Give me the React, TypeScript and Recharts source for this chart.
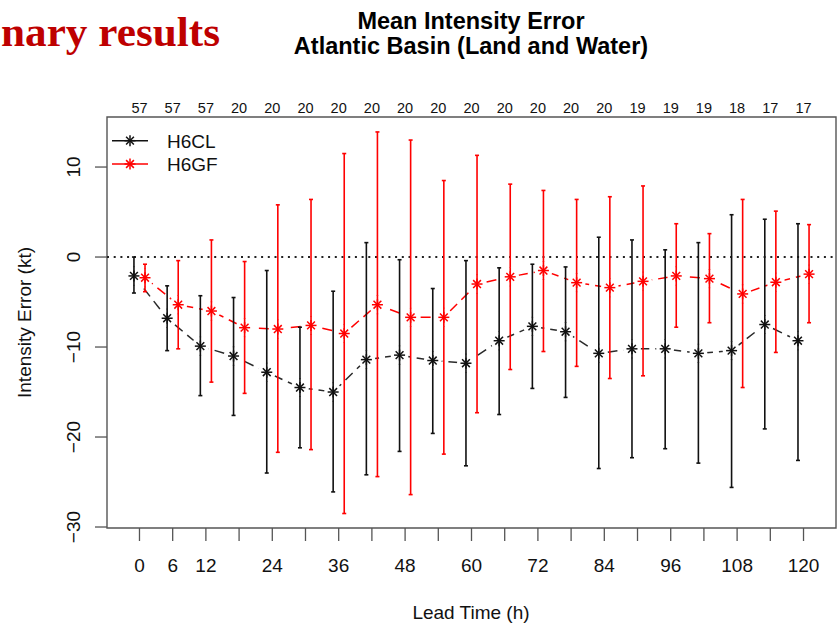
import React from 'react';
import { ComposedChart, Line, XAxis, YAxis, ErrorBar, ReferenceLine, ReferenceArea } from 'recharts';

// ---- data ----
const leadTimes = [0, 6, 12, 18, 24, 30, 36, 42, 48, 54, 60, 66, 72, 78, 84, 90, 96, 102, 108, 114, 120];
const caseCounts = [57, 57, 57, 20, 20, 20, 20, 20, 20, 20, 20, 20, 20, 20, 20, 19, 19, 19, 18, 17, 17];

const h6clMean = [-2.1, -6.8, -9.9, -11.0, -12.8, -14.5, -15.0, -11.4, -10.9, -11.5, -11.8, -9.3, -7.7, -8.3, -10.7, -10.2, -10.2, -10.7, -10.4, -7.5, -9.3];
const h6clLow = [-4.0, -10.4, -15.4, -17.6, -24.0, -21.2, -26.1, -24.2, -21.6, -19.6, -23.2, -17.5, -14.6, -15.6, -23.5, -22.3, -21.3, -22.9, -25.6, -19.1, -22.6];
const h6clHigh = [0.0, -3.2, -4.3, -4.5, -1.5, -7.8, -3.8, 1.6, -0.3, -3.5, -0.4, -1.2, -0.8, -1.1, 2.2, 1.9, 0.8, 1.6, 4.7, 4.2, 3.7];

const h6gfMean = [-2.3, -5.3, -6.0, -7.85, -8.0, -7.6, -8.5, -5.3, -6.7, -6.7, -3.0, -2.2, -1.5, -2.85, -3.4, -2.7, -2.1, -2.4, -4.1, -2.8, -1.9];
const h6gfLow = [-3.85, -10.2, -13.9, -15.15, -21.7, -21.4, -28.5, -24.4, -26.4, -21.9, -17.3, -12.5, -10.5, -12.15, -13.5, -13.2, -7.8, -7.3, -14.5, -10.6, -7.3];
const h6gfHigh = [-0.8, -0.4, 1.9, -0.5, 5.8, 6.4, 11.5, 13.9, 13.0, 8.5, 11.3, 8.1, 7.4, 6.4, 6.7, 7.9, 3.7, 2.6, 6.4, 5.1, 3.6];

const xTickLabels = [0, 6, 12, 24, 36, 48, 60, 72, 84, 96, 108, 120];
const yTicks = [-30, -20, -10, 0, 10];
const seriesShift = 1; // hours each series is nudged left / right
const xDomain: [number, number] = [-5.87, 125.87];
const yDomain: [number, number] = [-30.11, 15.56];

const BLACK = '#111111';
const LINE_BLACK = '#2a2a2a';
const RED = '#FF0000';
const FONT = '"Liberation Sans", Arial, Helvetica, sans-serif';
const GAP = 9;

const buildSeries = (mean: number[], low: number[], high: number[], shift: number) =>
  leadTimes.map((t, i) => ({
    x: t + shift,
    mean: mean[i],
    err: [mean[i] - low[i], high[i] - mean[i]],
  }));

const clData = buildSeries(h6clMean, h6clLow, h6clHigh, -seriesShift);
const gfData = buildSeries(h6gfMean, h6gfLow, h6gfHigh, seriesShift);

const Asterisk = ({ cx, cy, color }: { cx: number; cy: number; color: string }) => {
  const r = 5.5;
  const d = r * Math.SQRT1_2;
  return (
    <g stroke={color} strokeWidth={1.5}>
      <line x1={cx - r} y1={cy} x2={cx + r} y2={cy} />
      <line x1={cx} y1={cy - r} x2={cx} y2={cy + r} />
      <line x1={cx - d} y1={cy - d} x2={cx + d} y2={cy + d} />
      <line x1={cx - d} y1={cy + d} x2={cx + d} y2={cy - d} />
    </g>
  );
};

const starDot = (color: string) => (props: any) => {
  const { cx, cy, index } = props;
  if (cx == null || cy == null) return <g key={`s-${color}-${index}`} />;
  return (
    <g key={`s-${color}-${index}`}>
      <line x1={cx} y1={cy - GAP - 0.5} x2={cx} y2={cy + GAP + 0.5} stroke={color} strokeWidth={1.6} />
      <Asterisk cx={cx} cy={cy} color={color} />
    </g>
  );
};

const maskDot = (tag: string) => (props: any) => {
  const { cx, cy, index } = props;
  if (cx == null || cy == null) return <g key={`m-${tag}-${index}`} />;
  return <circle key={`m-${tag}-${index}`} cx={cx} cy={cy} r={GAP} fill="#ffffff" stroke="none" />;
};

const BottomTick = (props: any) => {
  const { x, y, payload } = props;
  if (!xTickLabels.includes(payload.value)) return <g />;
  return (
    <text x={x} y={y + 29} textAnchor="middle" fontFamily={FONT} fontSize={19} fill="#111">
      {payload.value}
    </text>
  );
};

const TopTick = (props: any) => {
  const { x, y, payload } = props;
  const idx = leadTimes.indexOf(payload.value);
  return (
    <text x={x} y={y} textAnchor="middle" fontFamily={FONT} fontSize={14.5} fill="#111">
      {idx >= 0 ? caseCounts[idx] : ''}
    </text>
  );
};

const LeftTick = (props: any) => {
  const { x, y, payload } = props;
  const bx = x - 13;
  return (
    <text
      x={bx}
      y={y}
      transform={`rotate(-90 ${bx} ${y})`}
      textAnchor="middle"
      fontFamily={FONT}
      fontSize={19}
      fill="#111"
    >
      {payload.value < 0 ? `\u2212${Math.abs(payload.value)}` : payload.value}
    </text>
  );
};

const legendItems = [
  { name: 'H6CL', color: BLACK, y: 140.7 },
  { name: 'H6GF', color: RED, y: 164 },
];

export default function App() {
  return (
    <div style={{ position: 'absolute', left: 0, top: 0, width: 837, height: 623, background: '#fff' }}>
      <ComposedChart width={837} height={623} margin={{ top: 87, right: 1, bottom: 0, left: 0 }}>
        <XAxis
          xAxisId="b"
          type="number"
          dataKey="x"
          domain={xDomain}
          ticks={leadTimes}
          interval={0}
          allowDataOverflow
          height={95}
          tickSize={13}
          tickMargin={2}
          axisLine={false}
          tickLine={{ stroke: '#555', strokeWidth: 1.3 }}
          tick={<BottomTick />}
        />
        <XAxis
          xAxisId="t"
          orientation="top"
          type="number"
          dataKey="x"
          domain={xDomain}
          ticks={leadTimes}
          interval={0}
          allowDataOverflow
          height={30}
          tickSize={0}
          tickMargin={4}
          axisLine={false}
          tickLine={false}
          tick={<TopTick />}
        />
        <YAxis
          type="number"
          domain={yDomain}
          ticks={yTicks}
          interval={0}
          allowDataOverflow
          width={107}
          tickSize={12}
          tickMargin={2}
          axisLine={false}
          tickLine={{ stroke: '#555', strokeWidth: 1.3 }}
          tick={<LeftTick />}
        />
        <ReferenceArea
          xAxisId="b"
          x1={xDomain[0]}
          x2={xDomain[1]}
          y1={yDomain[0]}
          y2={yDomain[1]}
          fill="none"
          fillOpacity={0}
          stroke="#555"
          strokeWidth={1.4}
          ifOverflow="visible"
        />
        <ReferenceLine xAxisId="b" y={0} stroke="#222" strokeWidth={2} strokeDasharray="2 4.7" />

        {/* dashed connecting lines */}
        <Line xAxisId="b" data={clData} dataKey="mean" name="H6CL" stroke={LINE_BLACK} strokeWidth={1.5}
          strokeDasharray="10 6" dot={false} activeDot={false} isAnimationActive={false} legendType="none" />
        <Line xAxisId="b" data={gfData} dataKey="mean" name="H6GF" stroke={RED} strokeWidth={1.5}
          strokeDasharray="10 6" dot={false} activeDot={false} isAnimationActive={false} legendType="none" />

        {/* gaps around points (type "b" style) */}
        <Line xAxisId="b" data={clData} dataKey="mean" stroke="none" dot={maskDot('cl')}
          activeDot={false} isAnimationActive={false} legendType="none" />
        <Line xAxisId="t" data={gfData} dataKey="mean" stroke="none" dot={maskDot('gf')}
          activeDot={false} isAnimationActive={false} legendType="none" />

        {/* error bars and asterisks */}
        <Line xAxisId="b" data={clData} dataKey="mean" stroke="none" dot={starDot(BLACK)}
          activeDot={false} isAnimationActive={false} legendType="none">
          <ErrorBar dataKey="err" direction="y" width={2} stroke={BLACK} strokeWidth={1.6} isAnimationActive={false} />
        </Line>
        <Line xAxisId="b" data={gfData} dataKey="mean" stroke="none" dot={starDot(RED)}
          activeDot={false} isAnimationActive={false} legendType="none">
          <ErrorBar dataKey="err" direction="y" width={2} stroke={RED} strokeWidth={1.6} isAnimationActive={false} />
        </Line>
      </ComposedChart>

      <svg
        width={837}
        height={623}
        style={{ position: 'absolute', left: 0, top: 0, pointerEvents: 'none' }}
      >
        <text
          x={1}
          y={46}
          fontFamily='"Liberation Serif", "Times New Roman", serif'
          fontWeight="bold"
          fontSize={42}
          fill="#BE0000"
          textLength={219}
          lengthAdjust="spacingAndGlyphs"
        >
          nary results
        </text>
        <text x={471} y={29} textAnchor="middle" fontFamily={FONT} fontWeight="bold" fontSize={23.5} fill="#000">
          Mean Intensity Error
        </text>
        <text x={471} y={54} textAnchor="middle" fontFamily={FONT} fontWeight="bold" fontSize={23.5} fill="#000">
          Atlantic Basin (Land and Water)
        </text>
        <text
          transform="translate(31 322.5) rotate(-90)"
          textAnchor="middle"
          fontFamily={FONT}
          fontSize={19}
          fill="#111"
        >
          Intensity Error (kt)
        </text>
        <text x={471} y={619} textAnchor="middle" fontFamily={FONT} fontSize={19} fill="#111">
          Lead Time (h)
        </text>
        {legendItems.map((it) => (
          <g key={it.name}>
            <line x1={112} y1={it.y} x2={148} y2={it.y} stroke={it.color} strokeWidth={1.5} />
            <Asterisk cx={130} cy={it.y} color={it.color} />
            <text x={167} y={it.y + 6.8} fontFamily={FONT} fontSize={19} fill="#111">
              {it.name}
            </text>
          </g>
        ))}
      </svg>
    </div>
  );
}
